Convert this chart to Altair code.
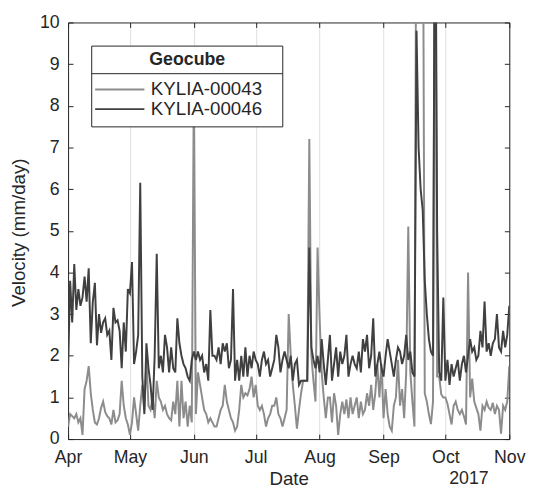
import altair as alt
import pandas as pd

START = "2017-04-01"
SENSORS = ["KYLIA-00043", "KYLIA-00046"]
COLORS = ["#8c8c8c", "#404040"]
LEGEND_TITLE = ["Geocube"]
YEAR_LABEL = ["2017"]
Y_TICKS = list(range(0, 11))
MONTHS = [4, 5, 6, 7, 8, 9, 10, 11]

# KYLIA-00043 daily velocity (mm/day)
k43_apr = [0.3, 0.6, 0.55, 0.5, 0.6, 0.4, 0.5, 0.1, 1.2, 1.4, 1.75, 1.1, 0.7, 0.4, 0.35,
           0.5, 0.75, 0.9, 0.65, 0.55, 0.5, 0.35, 0.7, 0.4, 0.45, 0.6, 1.4, 0.8, 0.5, 0.35]
k43_may = [0.1, 0.4, 1.0, 0.6, 0.2, 0.8, 1.3, 0.7, 1.9, 0.8, 0.7, 1.0, 0.5, 1.4, 1.0, 0.9,
           0.7, 0.8, 0.6, 0.5, 0.45, 0.9, 0.6, 1.4, 0.3, 1.4, 0.5, 0.9, 0.3, 0.8, 0.4]
k43_jun = [8.6, 0.6, 1.6, 1.3, 1.0, 0.7, 0.6, 0.4, 0.5, 0.4, 0.3, 0.3, 0.5, 0.7, 0.8,
           1.3, 0.9, 0.7, 0.5, 0.4, 0.2, 0.3, 0.7, 1.3, 1.0, 1.1, 1.05, 1.2, 1.5, 1.0]
k43_jul = [1.3, 0.8, 0.7, 0.8, 0.6, 0.3, 0.5, 0.6, 0.8, 0.8, 1.0, 0.6, 0.5, 0.3, 0.5, 0.7,
           3.0, 2.0, 1.3, 0.8, 0.25, 0.7, 1.1, 1.4, 1.4, 1.4, 7.2, 2.0, 1.4, 0.9, 4.6]
k43_aug = [2.9, 1.6, 1.0, 0.5, 1.0, 1.0, 0.4, 1.1, 0.8, 0.1, 0.6, 0.9, 0.6, 0.95, 0.5, 1.0,
           0.6, 0.8, 1.0, 0.5, 0.9, 0.6, 0.7, 1.1, 0.8, 1.3, 0.7, 1.1, 1.8, 1.0, 1.8]
k43_sep = [0.5, 1.2, 0.6, 0.3, 0.2, 0.8, 1.0, 1.9, 0.8, 1.2, 0.5, 1.6, 5.1, 1.6, 0.9,
           0.3, 15.0, 15.0, 15.0, 15.0, 1.1, 0.9, 0.6, 0.36, 0.9, 15.0, 1.5, 1.5, 1.07, 1.0]
k43_oct = [1.0, 0.85, 0.6, 0.35, 0.8, 0.9, 0.7, 0.6, 0.7, 0.55, 0.35, 4.0, 1.0, 1.45, 0.9,
           0.75, 0.6, 0.2, 0.8, 0.7, 0.9, 0.75, 0.7, 0.87, 0.6, 0.8, 0.7, 0.13, 0.8, 0.7, 0.9]
k43_nov = [1.75]

# KYLIA-00046 daily velocity (mm/day)
k46_apr = [1.7, 3.8, 2.8, 4.2, 3.1, 3.6, 3.2, 3.4, 3.9, 3.3, 4.1, 2.3, 3.3, 3.75, 2.25,
           3.0, 2.55, 2.8, 2.9, 2.5, 2.6, 1.9, 3.15, 2.8, 2.85, 2.6, 1.7, 2.8, 2.1, 3.6]
k46_may = [3.5, 4.25, 1.8, 2.1, 2.5, 6.15, 1.5, 0.6, 2.3, 1.7, 1.3, 0.7, 2.0, 4.45, 1.7, 2.0,
           1.6, 2.5, 2.2, 1.6, 2.2, 1.7, 1.6, 2.9, 2.3, 2.0, 1.8, 1.7, 1.5, 1.4, 1.9]
k46_jun = [2.1, 1.9, 2.1, 1.9, 2.0, 1.6, 1.8, 1.4, 3.1, 2.0, 2.0, 1.9, 2.2, 1.8, 2.3,
           2.1, 2.3, 1.7, 1.9, 3.6, 1.4, 1.9, 1.4, 2.0, 1.5, 2.2, 1.5, 2.0, 1.7, 2.1]
k46_jul = [1.9, 1.8, 1.5, 1.9, 2.1, 1.8, 1.9, 1.5, 1.7, 1.9, 2.5, 2.2, 1.6, 1.9, 2.1, 1.9,
           1.7, 2.0, 1.4, 1.8, 1.9, 1.3, 1.4, 1.4, 1.4, 1.4, 4.6, 2.2, 1.9, 1.7, 2.0]
k46_aug = [1.6, 2.4, 1.8, 1.3, 1.9, 2.5, 1.4, 1.8, 2.2, 1.5, 2.1, 1.8, 2.0, 2.5, 1.5, 1.8,
           2.0, 1.8, 1.7, 2.1, 1.6, 2.4, 2.1, 2.5, 1.7, 2.0, 2.9, 1.5, 1.8, 2.1, 1.7]
k46_sep = [1.5, 2.0, 2.4, 2.1, 1.8, 1.5, 1.9, 2.2, 2.1, 1.8, 2.0, 2.5, 1.9, 2.1, 1.6,
           1.5, 9.8, 7.0, 6.0, 5.5, 3.8, 3.0, 2.4, 2.1, 2.0, 15.0, 5.0, 1.6, 1.4, 3.4]
k46_oct = [1.4, 1.9, 1.3, 1.8, 1.5, 1.7, 1.9, 1.4, 1.8, 2.0, 1.6, 2.0, 2.4, 2.1, 2.2, 1.9,
           2.0, 2.6, 2.2, 3.3, 2.1, 2.3, 2.0, 2.3, 2.4, 3.0, 2.2, 2.1, 2.6, 2.2, 2.5]
k46_nov = [3.2]

k43 = k43_apr + k43_may + k43_jun + k43_jul + k43_aug + k43_sep + k43_oct + k43_nov
k46 = k46_apr + k46_may + k46_jun + k46_jul + k46_aug + k46_sep + k46_oct + k46_nov

frames = []
for name, vals in zip(SENSORS, [k43, k46]):
    frames.append(pd.DataFrame({
        "date": pd.date_range(START, periods=len(vals), freq="D"),
        "velocity": vals,
        "sensor": name,
    }))
df = pd.concat(frames, ignore_index=True)

INK = "#262626"
FONT = "Liberation Sans"
month_vals = [alt.DateTime(year=2017, month=m, date=1) for m in MONTHS]
xscale = alt.Scale(domain=[month_vals[0], month_vals[-1]])
yscale = alt.Scale(domain=[0, 10], nice=False)
inward = {"expr": "-5"}

main = alt.Chart(df).mark_line(strokeWidth=2, clip=True).encode(
    x=alt.X("date:T", scale=xscale, axis=alt.Axis(
        orient="bottom", values=month_vals, format="%b", title="Date",
        labelFontSize=18, labelColor=INK, labelBaseline="alphabetic", labelPadding=29,
        labelFlush=False, labelOverlap=False,
        tickSize=inward, tickColor=INK, domainColor=INK,
        grid=True, gridColor="#dedede", gridWidth=1,
        titleFontSize=19, titleFontWeight="normal", titleColor=INK,
        titleX=224, titleY=46, titleBaseline="alphabetic", titleAlign="center")),
    y=alt.Y("velocity:Q", scale=yscale, axis=alt.Axis(
        orient="left", values=Y_TICKS, title="Velocity (mm/day)",
        labelFontSize=18, labelColor=INK, labelPadding=14, labelBaseline="middle",
        tickSize=inward, tickColor=INK, domainColor=INK, grid=False,
        titleFontSize=19, titleFontWeight="normal", titleColor=INK,
        titleX=-40, titleY=213, titleAngle=270, titleBaseline="bottom", titleAlign="center")),
    color=alt.Color("sensor:N", scale=alt.Scale(domain=SENSORS, range=COLORS), legend=alt.Legend(
        title=None, orient="none", legendX=31, legendY=58.5,
        symbolType="M-5,0H5", symbolSize=100, symbolStrokeWidth=2,
        symbolOffset=12, labelOffset=22, labelFontSize=19, labelColor=INK,
        labelLimit=400, rowPadding=-8, padding=0)),
)

frame = alt.Chart(df).mark_line(opacity=0).encode(
    x=alt.X("date:T", scale=xscale, axis=alt.Axis(
        orient="top", values=month_vals, labels=False, title=None, grid=False,
        tickSize=inward, tickColor=INK, domainColor=INK)),
    y=alt.Y("velocity:Q", scale=yscale, axis=alt.Axis(
        orient="right", values=Y_TICKS, labels=False, title=None, grid=False,
        tickSize=inward, tickColor=INK, domainColor=INK)),
    detail="sensor:N",
)

one = pd.DataFrame({"t": LEGEND_TITLE})
box = alt.Chart(one).mark_rect(fill="white", stroke=INK, strokeWidth=1).encode(
    x=alt.value(24), x2=alt.value(218), y=alt.value(24), y2=alt.value(106))
sep = alt.Chart(one).mark_rule(stroke=INK, strokeWidth=1).encode(
    x=alt.value(24), x2=alt.value(218), y=alt.value(52))
head = alt.Chart(one).mark_text(fontSize=18, fontWeight="bold", color=INK, baseline="middle").encode(
    text="t:N", x=alt.value(121), y=alt.value(38))
year = alt.Chart(pd.DataFrame({"t": YEAR_LABEL})).mark_text(
    fontSize=18, color=INK, baseline="alphabetic").encode(
    text="t:N", x=alt.value(407), y=alt.value(469))

chart = alt.layer(main, frame, box, sep, head, year).resolve_axis(
    x="independent", y="independent"
).properties(
    width=448, height=423,
    padding={"left": 61, "top": 11, "right": 20, "bottom": 47},
    autosize=alt.AutoSizeParams(type="none"),
).configure(font=FONT).configure_view(stroke=None)

chart.save("out.html", embed_options={"renderer": "svg", "actions": False})
